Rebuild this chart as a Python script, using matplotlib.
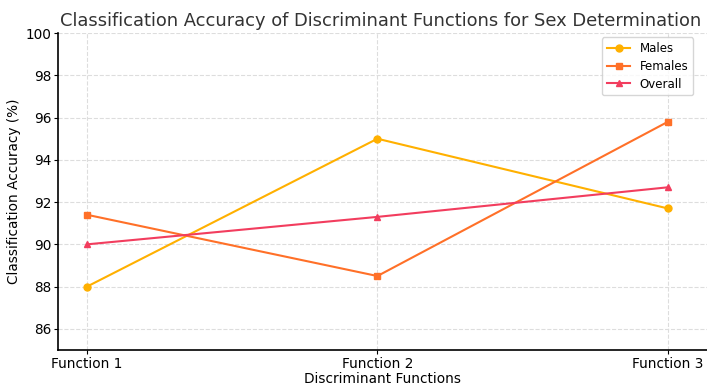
import matplotlib
matplotlib.use("Agg")
import matplotlib.pyplot as plt

functions = ["Function 1", "Function 2", "Function 3"]
males = [88.0, 95.0, 91.7]
females = [91.4, 88.5, 95.8]
overall = [90.0, 91.3, 92.7]

fig = plt.figure(figsize=(7.07, 3.85), dpi=100)
ax = fig.add_axes([0.082, 0.091, 0.918, 0.823])

x = range(len(functions))
ax.plot(x, males, marker="o", markersize=5, color="#FFB000", linewidth=1.5, label="Males")
ax.plot(x, females, marker="s", markersize=5, color="#FF7028", linewidth=1.5, label="Females")
ax.plot(x, overall, marker="^", markersize=5, color="#F23D5E", linewidth=1.5, label="Overall")

ax.set_xticks(list(x))
ax.set_xticklabels(functions)
ax.set_xlim(-0.1, 2.135)
ax.set_ylim(85, 100)
ax.set_yticks(range(86, 101, 2))
ax.tick_params(labelsize=9.8, length=3, pad=2)
ax.grid(True, linestyle="--", color="#dddddd", linewidth=0.8)
ax.set_axisbelow(True)
for s in ["top", "right"]:
    ax.spines[s].set_visible(False)
ax.spines["left"].set_linewidth(1.2)
ax.spines["bottom"].set_linewidth(1.2)

ax.set_title("Classification Accuracy of Discriminant Functions for Sex Determination",
             fontsize=12.9, pad=5, color="#333333", x=0.497)
ax.set_xlabel("Discriminant Functions", fontsize=9.8, labelpad=1)
ax.set_ylabel("Classification Accuracy (%)", fontsize=9.8, labelpad=3)
ax.legend(loc="upper right", fontsize=8.5, bbox_to_anchor=(0.988, 1.005), labelspacing=0.4)

fig.savefig("out.png", dpi=100)
